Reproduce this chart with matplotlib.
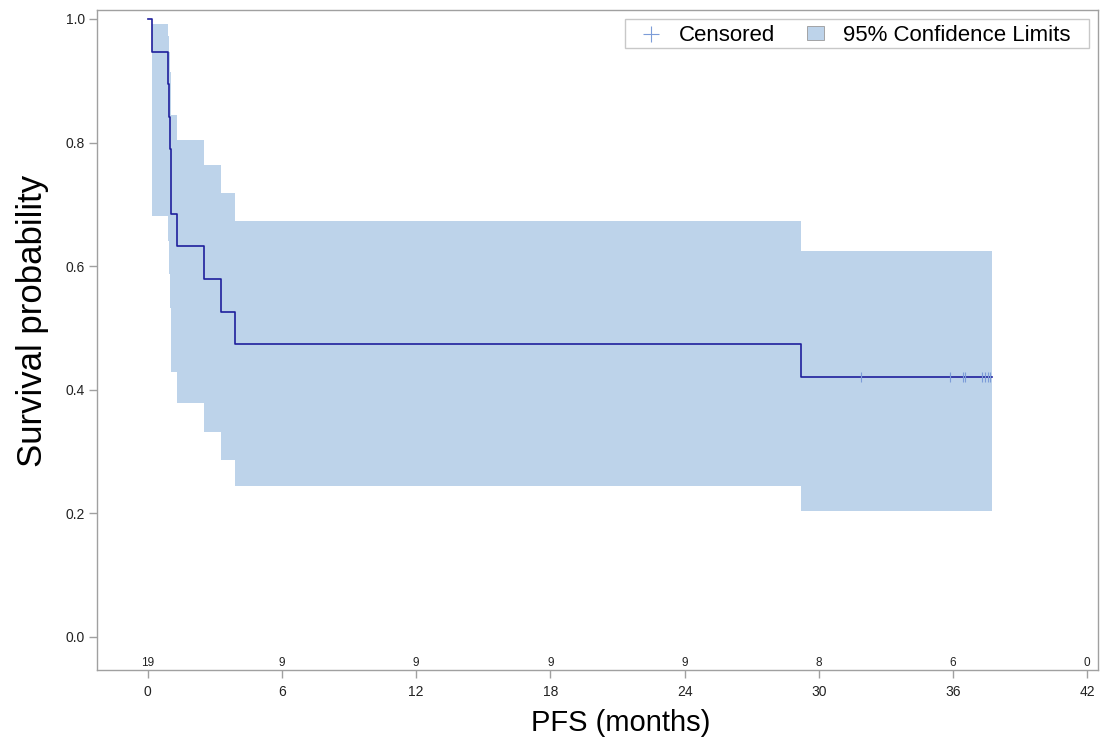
import matplotlib
matplotlib.use('Agg')
import matplotlib.lines as mlines
import matplotlib.patches as mpatches
import matplotlib.pyplot as plt
import matplotlib.transforms as mtransforms
import numpy as np

plt.rcParams['font.family'] = ['Liberation Sans', 'DejaVu Sans']

# Kaplan-Meier steps
step_times = [0.0, 0.17, 0.91, 0.95, 0.99, 1.02, 1.05, 1.31, 2.50, 3.25, 3.90, 29.2]
surv = [1.0, 0.947, 0.895, 0.842, 0.789, 0.737, 0.684, 0.632, 0.579, 0.526, 0.474, 0.421]
ci_lower = [1.0, 0.681, 0.641, 0.587, 0.532, 0.479, 0.428, 0.379, 0.332, 0.287, 0.244, 0.204]
ci_upper = [1.0, 0.992, 0.973, 0.946, 0.915, 0.881, 0.844, 0.804, 0.763, 0.719, 0.673, 0.625]
last_time = 37.75
censor_times = [31.9, 35.84, 36.45, 36.55, 37.31, 37.43, 37.54, 37.66]

risk_times = [0, 6, 12, 18, 24, 30, 36, 42]
at_risk = [19, 9, 9, 9, 9, 8, 6, 0]

line_col = '#1f1f9c'
band_col = '#bdd3ea'
cens_col = '#7c9cd8'
spine_col = '#a0a0a0'

fig = plt.figure(figsize=(11.04, 7.5), dpi=100)
ax = fig.add_axes([0.0879, 0.1067, 0.9067, 0.88])

t = np.array(step_times + [last_time])
s = np.array(surv + [surv[-1]])
lo = np.array(ci_lower + [ci_lower[-1]])
hi = np.array(ci_upper + [ci_upper[-1]])

# band only where there is a confidence interval (after the first event)
ax.fill_between(t[1:], lo[1:], hi[1:], step='post', color=band_col,
                linewidth=0, zorder=1)
ax.step(t, s, where='post', color=line_col, linewidth=1.2, zorder=3)

cens_s = [surv[-1]] * len(censor_times)
ax.plot(censor_times, cens_s, linestyle='none', marker='|', markersize=7,
        markeredgewidth=0.8, color=cens_col, zorder=4)

ax.set_xlim(-2.27, 42.48)
ax.set_ylim(-0.0534, 1.0146)
ax.set_xticks(risk_times)
ax.set_yticks([0.0, 0.2, 0.4, 0.6, 0.8, 1.0])
ax.set_yticklabels(['0.0', '0.2', '0.4', '0.6', '0.8', '1.0'])

for sp in ax.spines.values():
    sp.set_color(spine_col)
    sp.set_linewidth(1.0)
ax.tick_params(axis='both', colors=spine_col, labelcolor='#222222',
               labelsize=10, length=5.5, width=1.0)
ax.tick_params(axis='x', pad=5)
ax.tick_params(axis='y', pad=3)

# labels are centred on the data range, not on the axes box
xl = ax.set_xlabel('PFS (months)', fontsize=21)
xl.set_verticalalignment('center')
ax.xaxis.set_label_coords(0.523, -0.081)
yl = ax.set_ylabel('Survival probability', fontsize=25)
yl.set_verticalalignment('center')
ax.yaxis.set_label_coords(-0.064, 0.529)

# numbers at risk along the bottom of the plot area
trans = mtransforms.blended_transform_factory(ax.transData, ax.transAxes)
for xt, n in zip(risk_times, at_risk):
    ax.text(xt, 0.0105, str(n), transform=trans, ha='center', va='center',
            fontsize=8.5, color='#222222')

# legend: entries without frame, box drawn separately (wider side padding)
h_cens = mlines.Line2D([], [], linestyle='none', marker='+', markersize=11,
                       markeredgewidth=0.8, color=cens_col, label='Censored')
h_band = mpatches.Patch(facecolor=band_col, edgecolor='#999999', linewidth=0.6,
                        label='95% Confidence Limits')
leg = ax.legend(handles=[h_cens, h_band], loc='center right', ncol=2,
                bbox_to_anchor=(0.9725, 0.961), fontsize=16, frameon=False,
                borderaxespad=0, borderpad=0, handlelength=0.77,
                handleheight=0.6, handletextpad=0.85, columnspacing=1.45)
ax.add_patch(mpatches.Rectangle((0.5275, 0.942), 0.4635, 0.0439,
                                transform=ax.transAxes, facecolor='white',
                                edgecolor='#c8c8c8', linewidth=1.0, zorder=4))
leg.set_zorder(5)

plt.savefig('out.png', dpi=100)
